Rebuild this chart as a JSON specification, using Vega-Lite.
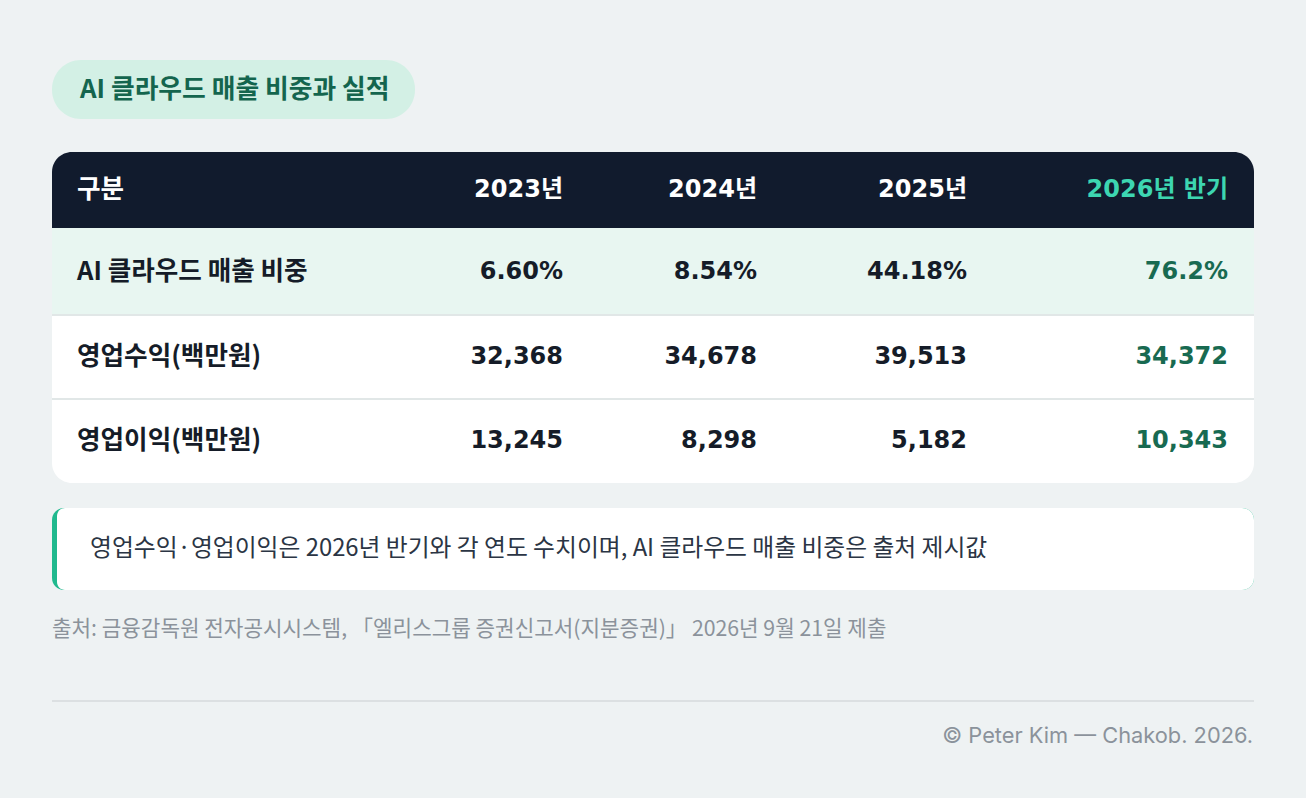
{
  "$schema": "https://vega.github.io/schema/vega-lite/v6.json",
  "width": 1306,
  "height": 798,
  "autosize": {"type": "fit", "contains": "padding"},
  "padding": 0,
  "background": "#eef2f3",
  "config": {"view": {"stroke": null}, "font": "Noto Sans CJK KR"},
  "resolve": {"scale": {"x": "independent", "y": "independent", "color": "independent"}},
  "datasets": {
    "table": [
      {"metric": "구분", "period": "구분", "display": "구분", "rowOrder": 0, "colOrder": 0, "kind": "header"},
      {"metric": "구분", "period": "2023년", "display": "2023년", "rowOrder": 0, "colOrder": 1, "kind": "header"},
      {"metric": "구분", "period": "2024년", "display": "2024년", "rowOrder": 0, "colOrder": 2, "kind": "header"},
      {"metric": "구분", "period": "2025년", "display": "2025년", "rowOrder": 0, "colOrder": 3, "kind": "header"},
      {"metric": "구분", "period": "2026년 반기", "display": "2026년 반기", "rowOrder": 0, "colOrder": 4, "kind": "header-hl"},
      {"metric": "AI 클라우드 매출 비중", "period": "구분", "display": "AI 클라우드 매출 비중", "rowOrder": 1, "colOrder": 0, "kind": "label"},
      {"metric": "AI 클라우드 매출 비중", "period": "2023년", "display": "6.60%", "rowOrder": 1, "colOrder": 1, "kind": "value"},
      {"metric": "AI 클라우드 매출 비중", "period": "2024년", "display": "8.54%", "rowOrder": 1, "colOrder": 2, "kind": "value"},
      {"metric": "AI 클라우드 매출 비중", "period": "2025년", "display": "44.18%", "rowOrder": 1, "colOrder": 3, "kind": "value"},
      {"metric": "AI 클라우드 매출 비중", "period": "2026년 반기", "display": "76.2%", "rowOrder": 1, "colOrder": 4, "kind": "value-hl"},
      {"metric": "영업수익(백만원)", "period": "구분", "display": "영업수익(백만원)", "rowOrder": 2, "colOrder": 0, "kind": "label"},
      {"metric": "영업수익(백만원)", "period": "2023년", "display": "32,368", "rowOrder": 2, "colOrder": 1, "kind": "value"},
      {"metric": "영업수익(백만원)", "period": "2024년", "display": "34,678", "rowOrder": 2, "colOrder": 2, "kind": "value"},
      {"metric": "영업수익(백만원)", "period": "2025년", "display": "39,513", "rowOrder": 2, "colOrder": 3, "kind": "value"},
      {"metric": "영업수익(백만원)", "period": "2026년 반기", "display": "34,372", "rowOrder": 2, "colOrder": 4, "kind": "value-hl"},
      {"metric": "영업이익(백만원)", "period": "구분", "display": "영업이익(백만원)", "rowOrder": 3, "colOrder": 0, "kind": "label"},
      {"metric": "영업이익(백만원)", "period": "2023년", "display": "13,245", "rowOrder": 3, "colOrder": 1, "kind": "value"},
      {"metric": "영업이익(백만원)", "period": "2024년", "display": "8,298", "rowOrder": 3, "colOrder": 2, "kind": "value"},
      {"metric": "영업이익(백만원)", "period": "2025년", "display": "5,182", "rowOrder": 3, "colOrder": 3, "kind": "value"},
      {"metric": "영업이익(백만원)", "period": "2026년 반기", "display": "10,343", "rowOrder": 3, "colOrder": 4, "kind": "value-hl"}
    ]
  },
  "layer": [
    {
      "data": {"values": [{"part": "title pill"}]},
      "mark": {"type": "rect", "cornerRadius": 29, "fill": "#d3f0e5"},
      "encoding": {
        "x": {"datum": -1, "type": "quantitative", "axis": null, "scale": {"domain": [-1, 0, 0.5, 1, 2, 3, 4, 5], "range": [52, 77, 415, 563, 757, 967, 1228, 1254], "zero": false, "nice": false}},
        "x2": {"datum": 0.5},
        "y": {"datum": -2.5, "type": "quantitative", "axis": null, "scale": {"domain": [-2.5, -2, -1.5, -0.5, 0, 0.5, 1, 1.5, 2, 2.5, 3, 3.5, 4, 4.5, 5, 6, 7, 8], "range": [60, 89.5, 119, 152, 190, 228, 271.5, 315, 357, 399, 441, 483, 508, 549, 590, 630, 701, 736], "zero": false, "nice": false}},
        "y2": {"datum": -1.5}
      }
    },
    {
      "data": {"values": [{"title": "AI 클라우드 매출 비중과 실적"}]},
      "mark": {"type": "text", "align": "left", "baseline": "middle", "dx": 3, "fontSize": 25.8, "fontWeight": "bold", "color": "#14654e"},
      "encoding": {
        "x": {"datum": 0, "type": "quantitative", "axis": null, "scale": {"domain": [-1, 0, 0.5, 1, 2, 3, 4, 5], "range": [52, 77, 415, 563, 757, 967, 1228, 1254], "zero": false, "nice": false}},
        "y": {"datum": -2, "type": "quantitative", "axis": null, "scale": {"domain": [-2.5, -2, -1.5, -0.5, 0, 0.5, 1, 1.5, 2, 2.5, 3, 3.5, 4, 4.5, 5, 6, 7, 8], "range": [60, 89.5, 119, 152, 190, 228, 271.5, 315, 357, 399, 441, 483, 508, 549, 590, 630, 701, 736], "zero": false, "nice": false}},
        "text": {"field": "title"}
      }
    },
    {
      "data": {"values": [{"part": "table body"}]},
      "mark": {"type": "rect", "cornerRadius": 20, "fill": "#ffffff"},
      "encoding": {
        "x": {"datum": -1, "type": "quantitative", "axis": null, "scale": {"domain": [-1, 0, 0.5, 1, 2, 3, 4, 5], "range": [52, 77, 415, 563, 757, 967, 1228, 1254], "zero": false, "nice": false}},
        "x2": {"datum": 5},
        "y": {"datum": -0.5, "type": "quantitative", "axis": null, "scale": {"domain": [-2.5, -2, -1.5, -0.5, 0, 0.5, 1, 1.5, 2, 2.5, 3, 3.5, 4, 4.5, 5, 6, 7, 8], "range": [60, 89.5, 119, 152, 190, 228, 271.5, 315, 357, 399, 441, 483, 508, 549, 590, 630, 701, 736], "zero": false, "nice": false}},
        "y2": {"datum": 3.5}
      }
    },
    {
      "data": {"values": [{"part": "table header"}]},
      "mark": {"type": "rect", "cornerRadiusTopLeft": 20, "cornerRadiusTopRight": 20, "fill": "#111b2d"},
      "encoding": {
        "x": {"datum": -1, "type": "quantitative", "axis": null, "scale": {"domain": [-1, 0, 0.5, 1, 2, 3, 4, 5], "range": [52, 77, 415, 563, 757, 967, 1228, 1254], "zero": false, "nice": false}},
        "x2": {"datum": 5},
        "y": {"datum": -0.5, "type": "quantitative", "axis": null, "scale": {"domain": [-2.5, -2, -1.5, -0.5, 0, 0.5, 1, 1.5, 2, 2.5, 3, 3.5, 4, 4.5, 5, 6, 7, 8], "range": [60, 89.5, 119, 152, 190, 228, 271.5, 315, 357, 399, 441, 483, 508, 549, 590, 630, 701, 736], "zero": false, "nice": false}},
        "y2": {"datum": 0.5}
      }
    },
    {
      "data": {"values": [{"part": "highlight row"}]},
      "mark": {"type": "rect", "fill": "#e8f6f1"},
      "encoding": {
        "x": {"datum": -1, "type": "quantitative", "axis": null, "scale": {"domain": [-1, 0, 0.5, 1, 2, 3, 4, 5], "range": [52, 77, 415, 563, 757, 967, 1228, 1254], "zero": false, "nice": false}},
        "x2": {"datum": 5},
        "y": {"datum": 0.5, "type": "quantitative", "axis": null, "scale": {"domain": [-2.5, -2, -1.5, -0.5, 0, 0.5, 1, 1.5, 2, 2.5, 3, 3.5, 4, 4.5, 5, 6, 7, 8], "range": [60, 89.5, 119, 152, 190, 228, 271.5, 315, 357, 399, 441, 483, 508, 549, 590, 630, 701, 736], "zero": false, "nice": false}},
        "y2": {"datum": 1.5}
      }
    },
    {
      "data": {"values": [{"part": "divider 1"}]},
      "mark": {"type": "rule", "stroke": "#e1e7e7", "strokeWidth": 2},
      "encoding": {
        "x": {"datum": -1, "type": "quantitative", "axis": null, "scale": {"domain": [-1, 0, 0.5, 1, 2, 3, 4, 5], "range": [52, 77, 415, 563, 757, 967, 1228, 1254], "zero": false, "nice": false}},
        "x2": {"datum": 5},
        "y": {"datum": 1.5, "type": "quantitative", "axis": null, "scale": {"domain": [-2.5, -2, -1.5, -0.5, 0, 0.5, 1, 1.5, 2, 2.5, 3, 3.5, 4, 4.5, 5, 6, 7, 8], "range": [60, 89.5, 119, 152, 190, 228, 271.5, 315, 357, 399, 441, 483, 508, 549, 590, 630, 701, 736], "zero": false, "nice": false}}
      }
    },
    {
      "data": {"values": [{"part": "divider 2"}]},
      "mark": {"type": "rule", "stroke": "#e1e7e7", "strokeWidth": 2},
      "encoding": {
        "x": {"datum": -1, "type": "quantitative", "axis": null, "scale": {"domain": [-1, 0, 0.5, 1, 2, 3, 4, 5], "range": [52, 77, 415, 563, 757, 967, 1228, 1254], "zero": false, "nice": false}},
        "x2": {"datum": 5},
        "y": {"datum": 2.5, "type": "quantitative", "axis": null, "scale": {"domain": [-2.5, -2, -1.5, -0.5, 0, 0.5, 1, 1.5, 2, 2.5, 3, 3.5, 4, 4.5, 5, 6, 7, 8], "range": [60, 89.5, 119, 152, 190, 228, 271.5, 315, 357, 399, 441, 483, 508, 549, 590, 630, 701, 736], "zero": false, "nice": false}}
      }
    },
    {
      "data": {"name": "table"},
      "transform": [{"filter": "datum.colOrder == 0"}],
      "mark": {"type": "text", "align": "left", "baseline": "middle", "fontSize": 25.6, "fontWeight": "bold"},
      "encoding": {
        "x": {"field": "colOrder", "type": "quantitative", "axis": null, "scale": {"domain": [-1, 0, 0.5, 1, 2, 3, 4, 5], "range": [52, 77, 415, 563, 757, 967, 1228, 1254], "zero": false, "nice": false}},
        "y": {"field": "rowOrder", "type": "quantitative", "axis": null, "scale": {"domain": [-2.5, -2, -1.5, -0.5, 0, 0.5, 1, 1.5, 2, 2.5, 3, 3.5, 4, 4.5, 5, 6, 7, 8], "range": [60, 89.5, 119, 152, 190, 228, 271.5, 315, 357, 399, 441, 483, 508, 549, 590, 630, 701, 736], "zero": false, "nice": false}},
        "text": {"field": "display"},
        "color": {"field": "kind", "type": "nominal", "legend": null, "scale": {"domain": ["header", "header-hl", "label", "value", "value-hl"], "range": ["#ffffff", "#3dd6b1", "#151c28", "#151c28", "#186a51"]}}
      }
    },
    {
      "data": {"name": "table"},
      "transform": [{"filter": "datum.colOrder > 0"}],
      "mark": {"type": "text", "align": "right", "baseline": "middle", "fontSize": 24, "fontWeight": "bold", "font": "DejaVu Sans, Noto Sans CJK KR"},
      "encoding": {
        "x": {"field": "colOrder", "type": "quantitative", "axis": null, "scale": {"domain": [-1, 0, 0.5, 1, 2, 3, 4, 5], "range": [52, 77, 415, 563, 757, 967, 1228, 1254], "zero": false, "nice": false}},
        "y": {"field": "rowOrder", "type": "quantitative", "axis": null, "scale": {"domain": [-2.5, -2, -1.5, -0.5, 0, 0.5, 1, 1.5, 2, 2.5, 3, 3.5, 4, 4.5, 5, 6, 7, 8], "range": [60, 89.5, 119, 152, 190, 228, 271.5, 315, 357, 399, 441, 483, 508, 549, 590, 630, 701, 736], "zero": false, "nice": false}},
        "text": {"field": "display"},
        "color": {"field": "kind", "type": "nominal", "legend": null, "scale": {"domain": ["header", "header-hl", "label", "value", "value-hl"], "range": ["#ffffff", "#3dd6b1", "#151c28", "#151c28", "#186a51"]}}
      }
    },
    {
      "data": {"values": [{"part": "note accent"}]},
      "mark": {"type": "rect", "cornerRadius": 12, "fill": "#20b98e"},
      "encoding": {
        "x": {"datum": -1, "type": "quantitative", "axis": null, "scale": {"domain": [-1, 0, 0.5, 1, 2, 3, 4, 5], "range": [52, 77, 415, 563, 757, 967, 1228, 1254], "zero": false, "nice": false}},
        "x2": {"datum": 5},
        "y": {"datum": 4, "type": "quantitative", "axis": null, "scale": {"domain": [-2.5, -2, -1.5, -0.5, 0, 0.5, 1, 1.5, 2, 2.5, 3, 3.5, 4, 4.5, 5, 6, 7, 8], "range": [60, 89.5, 119, 152, 190, 228, 271.5, 315, 357, 399, 441, 483, 508, 549, 590, 630, 701, 736], "zero": false, "nice": false}},
        "y2": {"datum": 5}
      }
    },
    {
      "data": {"values": [{"part": "note box"}]},
      "mark": {"type": "rect", "cornerRadiusTopLeft": 8, "cornerRadiusBottomLeft": 8, "cornerRadiusTopRight": 12, "cornerRadiusBottomRight": 12, "fill": "#ffffff", "xOffset": 5},
      "encoding": {
        "x": {"datum": -1, "type": "quantitative", "axis": null, "scale": {"domain": [-1, 0, 0.5, 1, 2, 3, 4, 5], "range": [52, 77, 415, 563, 757, 967, 1228, 1254], "zero": false, "nice": false}},
        "x2": {"datum": 5},
        "y": {"datum": 4, "type": "quantitative", "axis": null, "scale": {"domain": [-2.5, -2, -1.5, -0.5, 0, 0.5, 1, 1.5, 2, 2.5, 3, 3.5, 4, 4.5, 5, 6, 7, 8], "range": [60, 89.5, 119, 152, 190, 228, 271.5, 315, 357, 399, 441, 483, 508, 549, 590, 630, 701, 736], "zero": false, "nice": false}},
        "y2": {"datum": 5}
      }
    },
    {
      "data": {"values": [{"note": "영업수익·영업이익은 2026년 반기와 각 연도 수치이며, AI 클라우드 매출 비중은 출처 제시값"}]},
      "mark": {"type": "text", "align": "left", "baseline": "middle", "dx": 13, "fontSize": 23.8, "color": "#2b3544"},
      "encoding": {
        "x": {"datum": 0, "type": "quantitative", "axis": null, "scale": {"domain": [-1, 0, 0.5, 1, 2, 3, 4, 5], "range": [52, 77, 415, 563, 757, 967, 1228, 1254], "zero": false, "nice": false}},
        "y": {"datum": 4.5, "type": "quantitative", "axis": null, "scale": {"domain": [-2.5, -2, -1.5, -0.5, 0, 0.5, 1, 1.5, 2, 2.5, 3, 3.5, 4, 4.5, 5, 6, 7, 8], "range": [60, 89.5, 119, 152, 190, 228, 271.5, 315, 357, 399, 441, 483, 508, 549, 590, 630, 701, 736], "zero": false, "nice": false}},
        "text": {"field": "note"}
      }
    },
    {
      "data": {"values": [{"source": "출처: 금융감독원 전자공시시스템, 「엘리스그룹 증권신고서(지분증권)」 2026년 9월 21일 제출"}]},
      "mark": {"type": "text", "align": "left", "baseline": "middle", "fontSize": 21.25, "color": "#8b929b"},
      "encoding": {
        "x": {"datum": -1, "type": "quantitative", "axis": null, "scale": {"domain": [-1, 0, 0.5, 1, 2, 3, 4, 5], "range": [52, 77, 415, 563, 757, 967, 1228, 1254], "zero": false, "nice": false}},
        "y": {"datum": 6, "type": "quantitative", "axis": null, "scale": {"domain": [-2.5, -2, -1.5, -0.5, 0, 0.5, 1, 1.5, 2, 2.5, 3, 3.5, 4, 4.5, 5, 6, 7, 8], "range": [60, 89.5, 119, 152, 190, 228, 271.5, 315, 357, 399, 441, 483, 508, 549, 590, 630, 701, 736], "zero": false, "nice": false}},
        "text": {"field": "source"}
      }
    },
    {
      "data": {"values": [{"part": "footer rule"}]},
      "mark": {"type": "rule", "stroke": "#d6dadd", "strokeWidth": 1.5},
      "encoding": {
        "x": {"datum": -1, "type": "quantitative", "axis": null, "scale": {"domain": [-1, 0, 0.5, 1, 2, 3, 4, 5], "range": [52, 77, 415, 563, 757, 967, 1228, 1254], "zero": false, "nice": false}},
        "x2": {"datum": 5},
        "y": {"datum": 7, "type": "quantitative", "axis": null, "scale": {"domain": [-2.5, -2, -1.5, -0.5, 0, 0.5, 1, 1.5, 2, 2.5, 3, 3.5, 4, 4.5, 5, 6, 7, 8], "range": [60, 89.5, 119, 152, 190, 228, 271.5, 315, 357, 399, 441, 483, 508, 549, 590, 630, 701, 736], "zero": false, "nice": false}}
      }
    },
    {
      "data": {"values": [{"credit": "© Peter Kim — Chakob. 2026."}]},
      "mark": {"type": "text", "align": "right", "baseline": "middle", "dx": -1, "fontSize": 21.8, "font": "Inter", "color": "#8b929b"},
      "encoding": {
        "x": {"datum": 5, "type": "quantitative", "axis": null, "scale": {"domain": [-1, 0, 0.5, 1, 2, 3, 4, 5], "range": [52, 77, 415, 563, 757, 967, 1228, 1254], "zero": false, "nice": false}},
        "y": {"datum": 8, "type": "quantitative", "axis": null, "scale": {"domain": [-2.5, -2, -1.5, -0.5, 0, 0.5, 1, 1.5, 2, 2.5, 3, 3.5, 4, 4.5, 5, 6, 7, 8], "range": [60, 89.5, 119, 152, 190, 228, 271.5, 315, 357, 399, 441, 483, 508, 549, 590, 630, 701, 736], "zero": false, "nice": false}},
        "text": {"field": "credit"}
      }
    }
  ]
}
